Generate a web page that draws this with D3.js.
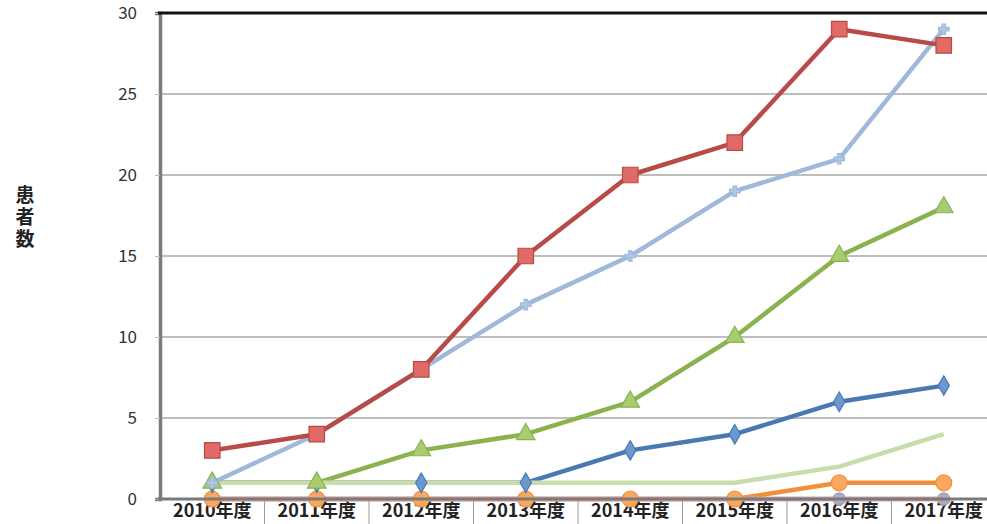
<!DOCTYPE html>
<html>
<head>
<meta charset="utf-8">
<script src="https://cdn.jsdelivr.net/npm/d3@7"></script>
<style>
body { margin: 0; background: #fff; }
text { font-family: "Noto Sans CJK JP", "Noto Sans", sans-serif; }
</style>
</head>
<body>
<div id="chart"></div>
<script>
// categories (fiscal years)
var years = ["2010年度", "2011年度", "2012年度", "2013年度", "2014年度", "2015年度", "2016年度", "2017年度"];
var yTicks = [0, 5, 10, 15, 20, 25, 30];

// series values
var pinkVals = [0, 0, 0, 0, 0, 0, 0, 0];
var greyVals = [0, 0, 0, 0, 0, 0, 0, 0];
var orangeVals = [0, 0, 0, 0, 0, 0, 1, 1];
var lightGreenVals = [1, 1, 1, 1, 1, 1, 2, 4];
var blueVals = [1, 1, 1, 1, 3, 4, 6, 7];
var greenVals = [1, 1, 3, 4, 6, 10, 15, 18];
var lightBlueVals = [1, 4, 8, 12, 15, 19, 21, 29];
var redVals = [3, 4, 8, 15, 20, 22, 29, 28];

var width = 987, height = 524;
var plotLeft = 160, plotTop = 13, plotBottom = 499, plotRight = 996;

var svg = d3.select("#chart").append("svg").attr("width", width).attr("height", height);

var x = d3.scaleBand().domain(years).range([plotLeft, plotRight]).padding(0);
var y = d3.scaleLinear().domain([0, 30]).range([plotBottom, plotTop]);

// gridlines
svg.append("g").selectAll("line").data(yTicks.slice(1, -1)).enter().append("line")
	.attr("x1", plotLeft).attr("x2", width)
	.attr("y1", function (d) { return y(d); }).attr("y2", function (d) { return y(d); })
	.attr("stroke", "#a8a8a8").attr("stroke-width", 1.5);

// y axis
var yAxis = svg.append("g").attr("transform", "translate(" + plotLeft + ",0)")
	.call(d3.axisLeft(y).tickValues(yTicks).tickSize(5).tickPadding(18));
yAxis.select(".domain").attr("stroke", "#7a7a7a").attr("stroke-width", 3.5);
yAxis.selectAll(".tick line").attr("stroke", "#bbb");
yAxis.selectAll(".tick text").attr("font-size", 17).attr("fill", "#333");

// top border
svg.append("line").attr("x1", plotLeft - 2).attr("x2", width).attr("y1", plotTop).attr("y2", plotTop)
	.attr("stroke", "#111").attr("stroke-width", 3);

// x axis with category boxes
var xAxis = svg.append("g").attr("transform", "translate(0," + plotBottom + ")")
	.call(d3.axisBottom(x).tickSize(0).tickPadding(5));
xAxis.select(".domain").remove();
xAxis.selectAll(".tick text").attr("font-size", 18).attr("font-weight", "bold").attr("fill", "#222");
svg.append("g").selectAll("line").data(years.slice(1)).enter().append("line")
	.attr("x1", function (d) { return x(d); }).attr("x2", function (d) { return x(d); })
	.attr("y1", plotBottom).attr("y2", height)
	.attr("stroke", "#999").attr("stroke-width", 1);

// y title, vertical writing
svg.append("text")
	.attr("x", 25).attr("y", 218)
	.attr("writing-mode", "vertical-rl")
	.attr("text-anchor", "middle")
	.attr("font-size", 19).attr("font-weight", "bold").attr("fill", "#222")
	.attr("letter-spacing", 3)
	.text("患者数");

// drawing order matters: light green covers blue/green at 1, pink covers orange at 0
var series = [
	{ vals: greyVals, color: "#a8a0b8", fill: "#b0a8c0", shape: "circle", size: 120 },
	{ vals: orangeVals, color: "#f0903a", fill: "#f8a860", shape: "circle", size: 200 },
	{ vals: pinkVals, color: "#d4a0a8", fill: "#d4a0a8", shape: "none" },
	{ vals: blueVals, color: "#4a78b0", fill: "#6a98d0", shape: "diamond", size: 110 },
	{ vals: greenVals, color: "#8cb250", fill: "#a8cc70", shape: "triangle", size: 150 },
	{ vals: lightGreenVals, color: "#c8dcac", fill: "#c8dcac", shape: "none" },
	{ vals: lightBlueVals, color: "#a0b8dc", fill: "#b0c8e8", shape: "star", size: 60 },
	{ vals: redVals, color: "#b84a48", fill: "#e06a66", shape: "square", size: 240 }
];

var line = d3.line()
	.x(function (d, i) { return x(years[i]) + x.bandwidth() / 2; })
	.y(function (d) { return y(d); });

var shapeTypes = {
	circle: d3.symbolCircle,
	diamond: d3.symbolDiamond,
	triangle: d3.symbolTriangle,
	star: d3.symbolCross,
	square: d3.symbolSquare
};

// lines first
series.forEach(function (s) {
	svg.append("path").datum(s.vals).attr("d", line)
		.attr("fill", "none").attr("stroke", s.color).attr("stroke-width", 4.5)
		.attr("stroke-linejoin", "round");
});

// then markers
series.forEach(function (s) {
	if (s.shape == "none") return;
	svg.append("g").selectAll("path").data(s.vals).enter().append("path")
		.attr("d", d3.symbol().type(shapeTypes[s.shape]).size(s.size))
		.attr("transform", function (d, i) {
			return "translate(" + (x(years[i]) + x.bandwidth() / 2) + "," + y(d) + ")";
		})
		.attr("fill", s.fill).attr("stroke", s.color).attr("stroke-width", 1.2);
});

// bottom axis line
svg.append("line").attr("x1", plotLeft - 2).attr("x2", width).attr("y1", plotBottom).attr("y2", plotBottom)
	.attr("stroke", "#7a7a7a").attr("stroke-width", 3);
</script>
</body>
</html>
